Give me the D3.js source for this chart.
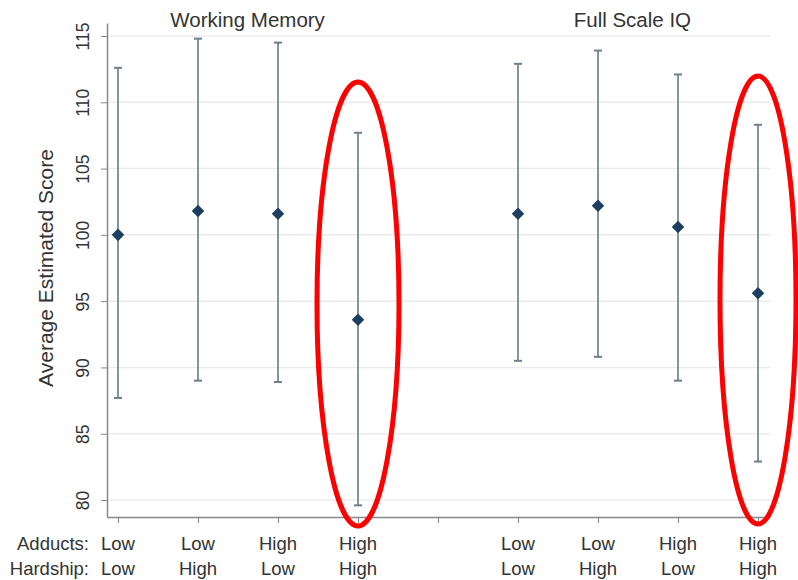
<!DOCTYPE html>
<head>
  <meta charset="utf-8">
  <title>Average Estimated Score</title>
  <script src="https://d3js.org/d3.v7.min.js"></script>
  <style>
    body { margin: 0; background: #fff; }
    text { font-family: "Liberation Sans", Arial, sans-serif; fill: #333; }
  </style>
</head>
<body>
<script>

  // data
  let positions = [1, 2, 3, 4, 6, 7, 8, 9];
  let adducts   = ["Low", "Low", "High", "High", "Low", "Low", "High", "High"];
  let hardship  = ["Low", "High", "Low", "High", "Low", "High", "Low", "High"];
  let means     = [100.0, 101.8, 101.6, 93.6, 101.6, 102.2, 100.6, 95.6];
  let upper     = [112.6, 114.8, 114.5, 107.7, 112.9, 113.9, 112.1, 108.3];
  let lower     = [87.7, 89.0, 88.9, 79.6, 90.5, 90.8, 89.0, 82.9];
  let y_ticks   = [80, 85, 90, 95, 100, 105, 110, 115];
  let panels    = [{name: "Working Memory", at: 2.62}, {name: "Full Scale IQ", at: 7.43}];
  let circled   = [4, 9];

  let width = 798;
  let height = 580;
  let margin = {top: 23, right: 28, bottom: 63, left: 107};

  let svg = d3.select("body").append("svg")
      .attr("width", width)
      .attr("height", height);

  let x = d3.scaleLinear()
      .domain([0.8625, 9.15])
      .range([margin.left, width - margin.right]);

  let y = d3.scaleLinear()
      .domain([78.72, 115.98])
      .range([height - margin.bottom, margin.top]);

  // grid lines
  svg.append("g")
      .selectAll("line")
      .data(y_ticks)
      .enter()
      .append("line")
      .attr("x1", margin.left)
      .attr("x2", width - margin.right)
      .attr("y1", d => y(d))
      .attr("y2", d => y(d))
      .style("stroke", "#ececec")
      .style("stroke-width", "1.5px");

  // y axis
  let y_axis = svg.append("g")
      .attr("transform", "translate(" + margin.left + ",0)")
      .call(d3.axisLeft(y).tickValues(y_ticks).tickSize(6).tickSizeOuter(0));
  y_axis.select(".domain").style("stroke", "#888").style("stroke-width", "1.5px");
  y_axis.selectAll(".tick line").style("stroke", "#888");
  y_axis.selectAll(".tick text")
      .attr("x", null).attr("dy", null)
      .attr("transform", "translate(-18,0) rotate(-90)")
      .attr("text-anchor", "middle")
      .style("font-size", "17.5px")
      .style("font-family", "Liberation Sans, Arial, sans-serif")
      .style("fill", "#333");

  // x axis (ticks only, labels drawn below)
  let x_axis = svg.append("g")
      .attr("transform", "translate(0," + (height - margin.bottom) + ")")
      .call(d3.axisBottom(x).tickValues(d3.range(1, 10)).tickSize(6).tickSizeOuter(0).tickFormat(""));
  x_axis.select(".domain").style("stroke", "#888").style("stroke-width", "1.5px");
  x_axis.selectAll(".tick line").style("stroke", "#888");

  svg.append("text")
      .text("Average Estimated Score")
      .attr("text-anchor", "middle")
      .attr("transform", "translate(53,268) rotate(-90)")
      .style("font-size", "21px");

  // panel titles
  svg.selectAll(".panel")
      .data(panels)
      .enter()
      .append("text")
      .attr("class", "panel")
      .attr("x", d => x(d.at))
      .attr("y", 27)
      .attr("text-anchor", "middle")
      .style("font-size", "20.5px")
      .text(d => d.name);

  // error bars
  let bars = svg.append("g");
  positions.forEach(function (p, i) {
    bars.append("line")
      .attr("x1", x(p)).attr("x2", x(p))
      .attr("y1", y(lower[i])).attr("y2", y(upper[i]))
      .style("stroke", "#8593a0").style("stroke-width", "2px");
    [lower[i], upper[i]].forEach(function (v) {
      bars.append("line")
        .attr("x1", x(p) - 4).attr("x2", x(p) + 4)
        .attr("y1", y(v)).attr("y2", y(v))
        .style("stroke", "#6f7f8d").style("stroke-width", "2px");
    });
  });

  // means
  svg.append("g")
      .selectAll("path")
      .data(positions)
      .enter()
      .append("path")
      .attr("d", d3.symbol().type(d3.symbolDiamond2).size(100))
      .attr("transform", (d, i) => "translate(" + x(d) + "," + y(means[i]) + ")")
      .style("fill", "#1a3f5f");

  // category labels
  let lab = svg.append("g");
  positions.forEach(function (p, i) {
    lab.append("text").attr("x", x(p)).attr("y", 550).attr("text-anchor", "middle")
      .style("font-size", "18.5px").text(adducts[i]);
    lab.append("text").attr("x", x(p)).attr("y", 575).attr("text-anchor", "middle")
      .style("font-size", "18.5px").text(hardship[i]);
  });
  lab.append("text").attr("x", 89).attr("y", 550).attr("text-anchor", "end")
    .style("font-size", "18.5px").text("Adducts:");
  lab.append("text").attr("x", 89).attr("y", 575).attr("text-anchor", "end")
    .style("font-size", "18.5px").text("Hardship:");

  // red ellipses
  svg.append("g")
      .selectAll("ellipse")
      .data(circled)
      .enter()
      .append("ellipse")
      .attr("cx", d => x(d))
      .attr("cy", (d, i) => [304, 300][i])
      .attr("rx", (d, i) => [41, 38][i])
      .attr("ry", (d, i) => [222, 224][i])
      .style("fill", "none")
      .style("stroke", "#ff0000")
      .style("stroke-width", "5px");

</script>
</body>
